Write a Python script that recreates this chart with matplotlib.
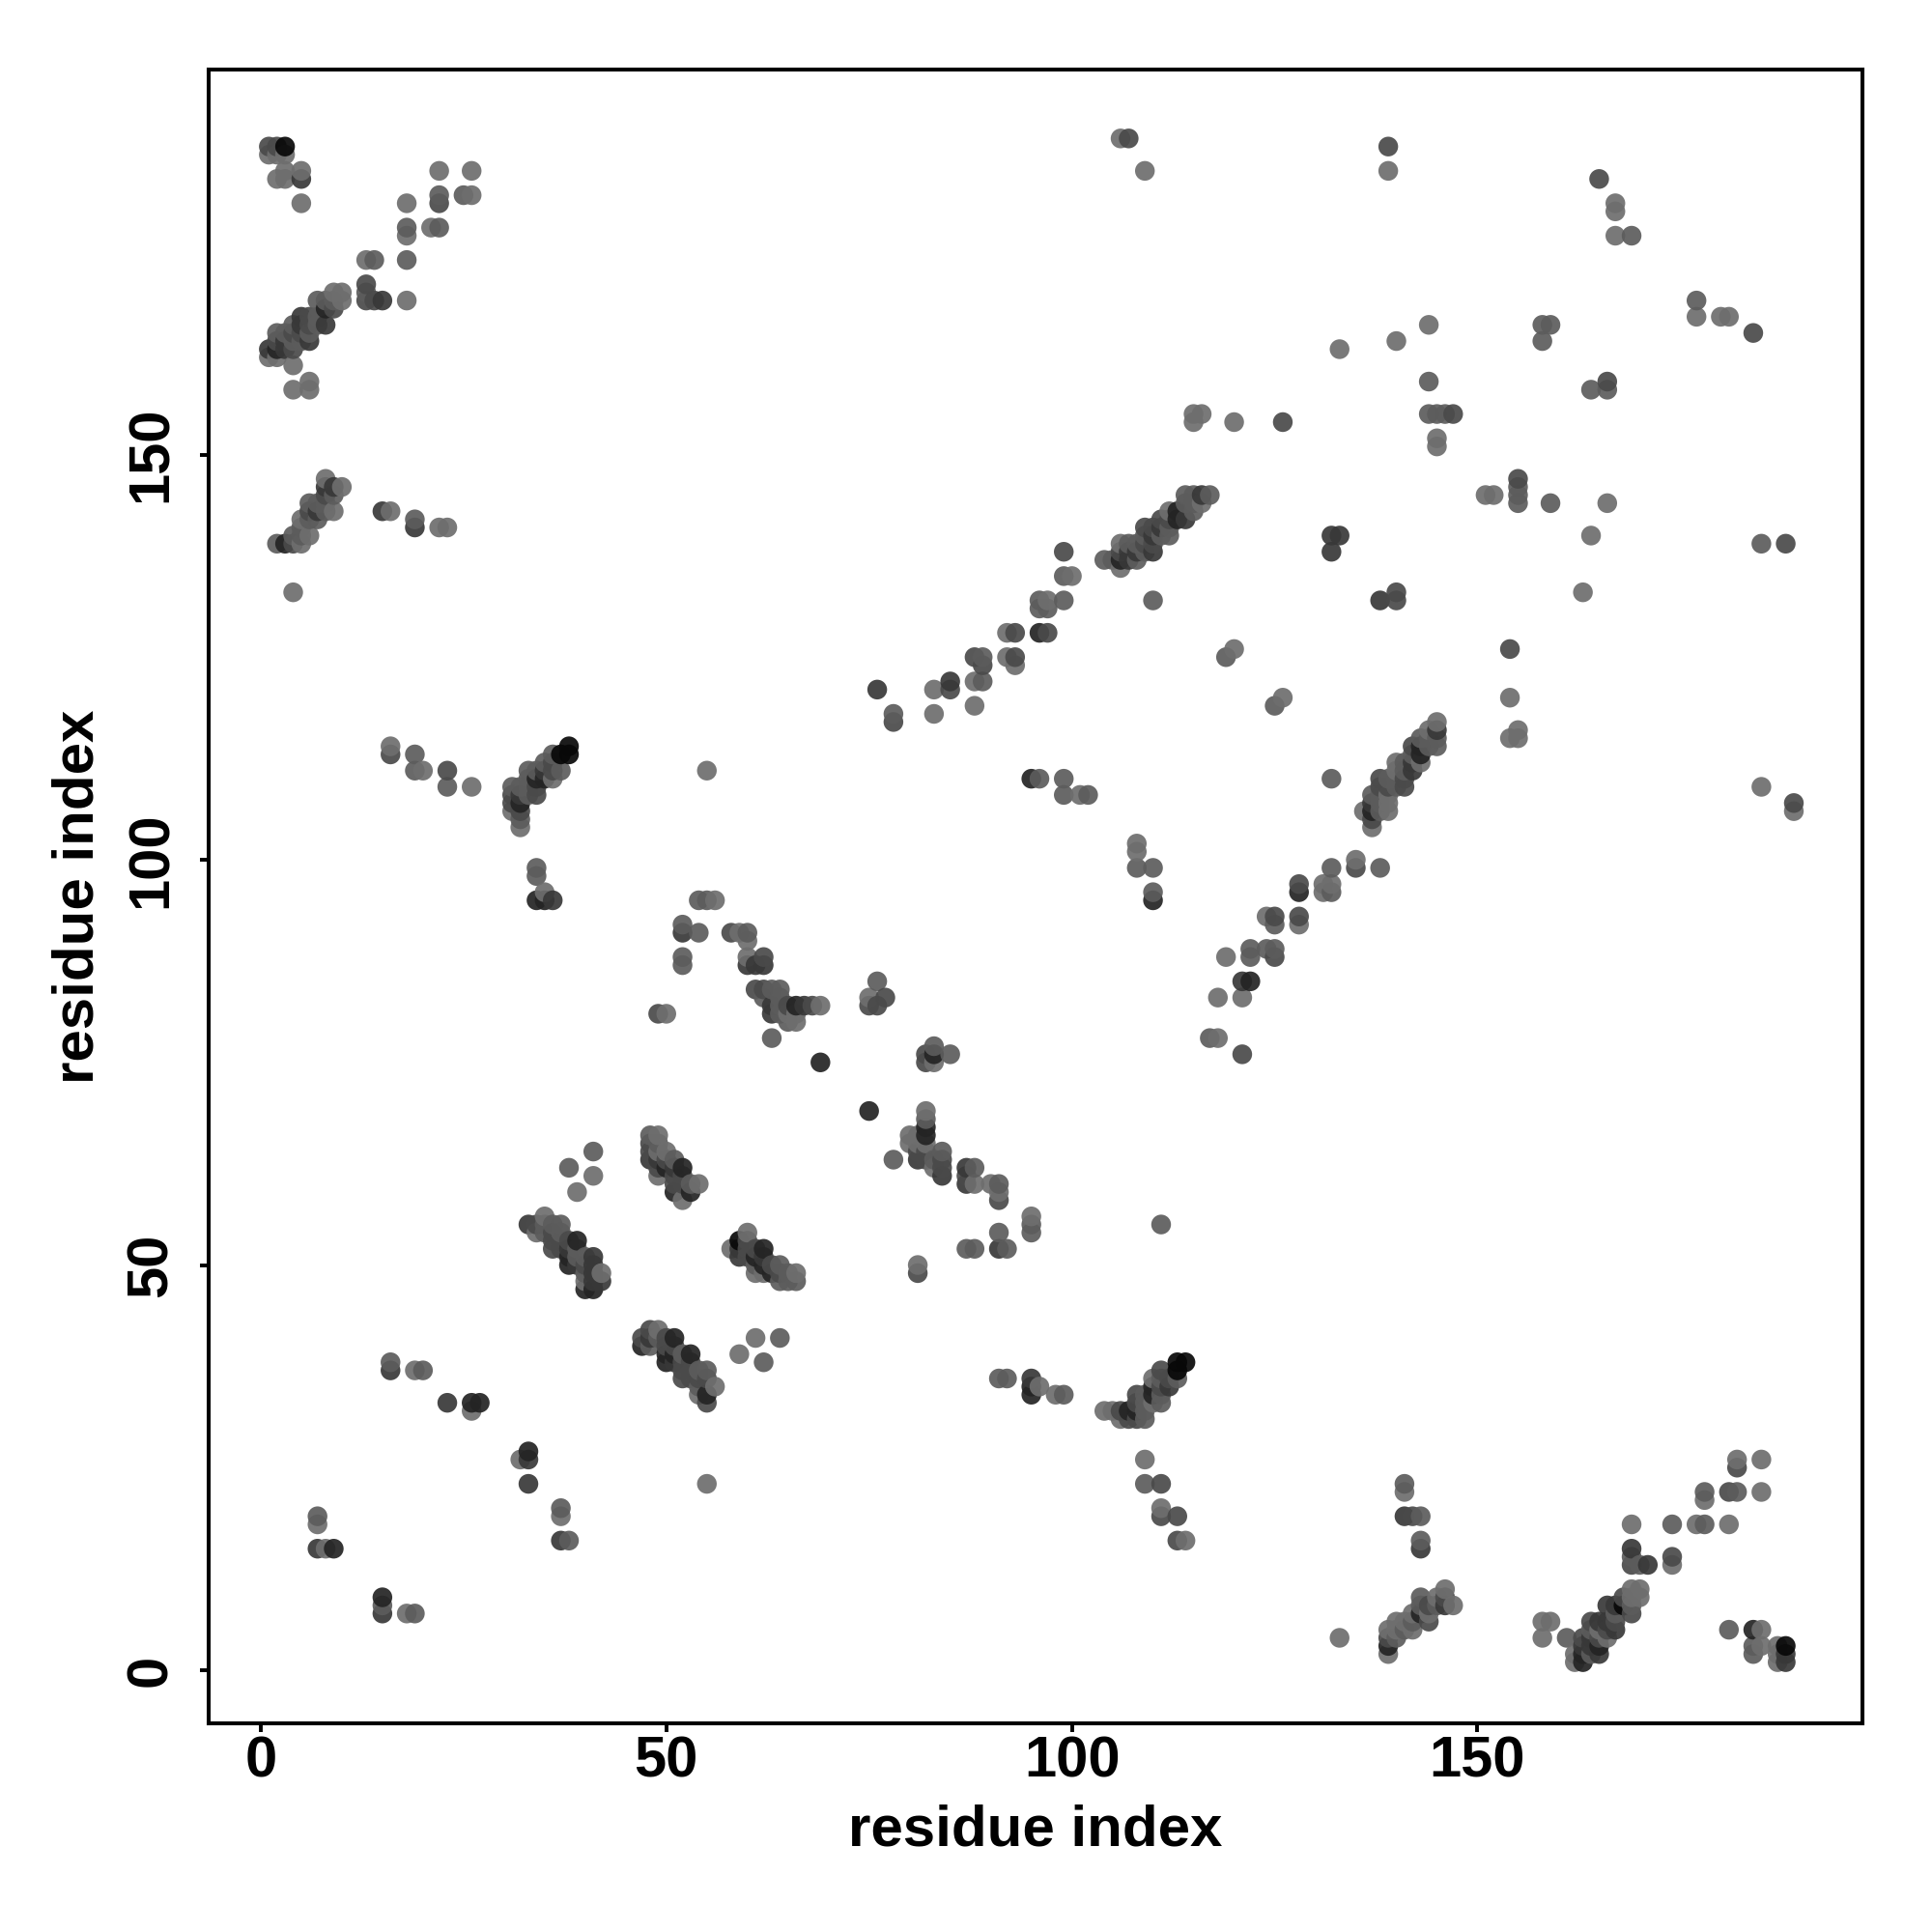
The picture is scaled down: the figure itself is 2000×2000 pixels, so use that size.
import numpy as np
import matplotlib
matplotlib.use("Agg")
import matplotlib.pyplot as plt

plt.rcParams['font.family'] = ['Liberation Sans', 'DejaVu Sans']

# contacts (residue i, residue j), grouped by how dark they were in the picture
light_contacts = [
    (1,187),(2,187),(3,187),(2,184),(3,185),(3,184),(5,185),(5,181),(18,181),(22,185),(26,185),(26,182),
    (18,177),(21,178),(13,174),(18,169),(10,170),(9,170),(10,169),(1,162),(2,162),(4,161),(4,158),(6,159),(6,158),
    (8,147),(10,146),(9,143),(5,142),(6,140),(5,139),(4,133),(16,143),(22,141),(23,141),
    (16,114),(20,111),(26,109),(36,110),(31,106),(32,104),(35,96),
    (55,111),(56,95),(59,91),(60,90),(60,88),(69,82),(65,81),(66,81),(66,80),(75,83),(50,81),
    (41,61),(39,59),(49,66),(49,64),(50,64),(54,60),(49,61),(52,58),
    (35,56),(34,54),(42,49),(40,48),(60,54),(58,52),(61,49),(62,49),(66,49),(49,42),(54,34),(56,35),
    (61,41),(59,39),(32,26),(55,23),(37,19),
    (124,93),(119,88),(118,83),(121,83),(118,78),(83,75),(82,69),(82,65),(80,66),(80,65),(81,66),(81,65),(83,62),
    (88,60),(90,60),(91,59),(95,56),(81,50),
    (115,155),(116,155),(115,154),(120,154),(116,144),(112,143),(106,139),(106,136),(100,135),(97,132),(92,128),
    (92,125),(93,124),(88,122),(83,121),(88,119),(83,118),(101,108),(120,126),(126,120),
    (154,120),(154,115),(155,116),(155,115),(145,117),(144,116),(143,112),(140,112),(140,111),(139,108),(139,107),
    (139,106),(136,106),(137,104),(135,100),(131,97),(131,96),(132,97),(128,92),
    (139,185),(167,181),(167,180),(167,177),(177,167),(180,167),(181,167),(144,166),(140,164),(133,163),(145,152),
    (145,151),(151,145),(152,145),(166,144),(164,140),(163,133),(185,109),(189,106),(109,185),(106,189),
    (141,22),(139,2),(139,5),(140,5),(140,6),(141,6),(142,5),(142,7),(144,7),(145,9),(146,10),(147,8),(158,6),(159,6),
    (158,4),(162,1),(162,2),(165,5),(166,4),(169,10),(170,10),(169,9),(170,9),(169,18),(174,13),(177,18),(181,18),
    (178,21),(182,26),(185,26),(185,22),(185,5),(185,3),(187,3),(187,2),(187,1),(133,4),
    (19,37),(26,32),(8,15),(7,18),(18,7),(96,35),(98,34),(104,32),(105,32),(106,31),(110,36),(110,33),(109,26),
    (111,20),(114,16),(108,102),(108,101),
]
mid_contacts = [
    (22,182),(25,182),(18,178),(22,178),(14,174),(18,174),(13,170),(7,169),(9,169),(8,169),(7,167),(7,166),(4,166),
    (3,165),(2,165),(6,165),(4,164),(5,164),
    (6,144),(7,144),(8,144),(9,145),(8,143),(6,142),(7,142),(4,140),(5,141),(5,140),(2,139),
    (19,142),(19,113),(19,111),(23,109),(37,111),(36,113),(35,112),(33,111),(34,111),(33,110),(31,109),(32,109),(33,109),
    (33,108),(32,105),(34,99),(34,98),
    (54,95),(55,95),(52,92),(54,91),(52,88),(52,87),(60,91),(63,84),(64,84),(62,83),(64,83),(64,82),(64,81),(65,80),
    (63,78),(76,85),(41,64),(38,62),
    (48,66),(49,65),(51,63),(53,60),(35,55),(36,55),(37,55),(35,54),(37,54),(39,52),(39,51),(40,51),(40,49),
    (61,50),(64,50),(65,49),(64,48),(65,48),(66,48),
    (49,41),(48,40),(52,39),(54,37),(55,37),(54,35),
    (64,41),(62,38),(37,20),(38,16),(78,63),(125,92),(122,89),(122,88),(124,89),(125,89),(117,78),(111,55),
    (83,77),(85,76),(82,68),(83,63),(84,64),(88,62),(91,60),(95,55),(95,54),(91,54),(87,52),(88,52),(92,52),
    (117,145),(115,145),(114,145),(114,144),(115,144),(115,143),(112,141),(109,140),(111,140),(112,140),
    (107,139),(108,139),(109,138),(104,137),(105,137),(108,137),(99,135),(96,132),(99,132),(96,131),(97,131),(110,132),
    (89,125),(89,122),(78,118),(96,110),(99,110),(99,108),(102,108),(125,119),(119,125),
    (144,115),(145,115),(145,114),(144,114),(143,115),(142,113),(141,112),(141,111),(140,110),(139,110),(140,109),
    (137,108),(138,108),(138,107),(138,106),(132,110),(132,99),(138,99),(132,96),
    (169,177),(177,169),(158,166),(159,166),(158,164),(144,159),(144,155),(145,155),(146,155),(164,158),(166,158),
    (155,146),(155,145),(155,144),(159,144),(185,139),
    (141,23),(143,19),(143,16),(140,4),(141,5),(142,6),(143,9),(143,8),(145,8),(161,4),(164,2),(164,5),(167,7),
    (169,8),(170,13),(169,14),(174,18),(178,22),(178,18),(182,22),(181,5),(184,3),(184,2),
    (16,38),(20,37),(7,19),(15,8),(19,7),(91,36),(92,36),(99,34),(109,31),(109,34),(109,33),(109,32),(111,36),(111,34),
    (111,33),(113,36),(109,23),(108,99),(110,99),(110,96),
]
dark_contacts = [
    (1,188),(2,188),(22,181),(13,171),(13,169),(14,169),(6,167),(9,168),(6,166),(4,165),(5,165),(2,164),(4,163),
    (8,145),(6,143),(4,139),(16,113),(23,111),(36,112),(36,111),(34,109),(34,108),(31,108),
    (31,107),(32,106),
    (58,91),(61,84),(62,84),(62,88),(65,82),(68,82),(77,83),(75,82),(76,82),(49,81),
    (48,65),(48,64),(50,63),(49,62),(51,61),(52,61),(51,60),(52,60),
    (34,55),(36,54),(36,53),(37,53),(38,53),(36,52),(37,52),(40,50),
    (60,53),(60,52),(61,52),(60,51),(63,50),(64,49),
    (47,41),(48,42),(50,41),(50,40),(51,40),(52,38),(53,38),(52,37),(53,37),(52,36),(53,36),(54,36),(55,36),(55,33),
    (125,93),(125,88),(121,76),(82,76),(82,75),(81,64),(82,64),(82,63),(84,63),(84,62),(87,61),(91,58),(81,49),
    (109,141),(110,141),(111,142),(112,142),(109,139),(110,139),(106,138),(126,154),(99,138),(93,128),(97,128),
    (88,125),(89,124),(93,125),(85,121),(78,117),
    (142,114),(141,110),(138,110),(141,109),(139,109),(138,109),(137,105),(135,99),(128,97),(128,93),
    (139,188),(165,184),(184,165),(147,155),(166,159),(155,147),(140,133),(140,132),(154,126),(188,139),(189,107),(107,189),
    (139,4),(142,19),(144,6),(144,8),(146,9),(163,4),(165,4),(164,6),(166,5),(167,6),(168,9),(169,7),(169,13),(174,14),
    (181,22),(182,25),
    (107,31),(108,31),(106,32),(108,34),(108,33),(111,37),(111,35),(112,36),(111,23),(111,19),(113,19),(113,16),
]
darker_contacts = [
    (5,184),(15,169),(5,167),(8,166),(5,166),(3,164),(6,164),(1,163),(3,163),
    (7,143),(8,146),(9,146),(15,143),(19,141),(35,111),(32,108),
    (36,95),(52,91),(60,87),(61,87),(62,87),(63,82),(67,82),(63,81),
    (48,63),(49,63),(51,62),(33,55),(38,52),(41,50),(41,49),(41,48),(42,48),(39,50),(41,51),(59,52),(59,51),(62,51),
    (48,41),(51,38),(33,26),(33,23),(37,16),(121,85),(81,63),(84,61),(87,62),(87,60),(91,52),
    (116,145),(114,142),(111,141),(110,140),(107,138),(108,138),(110,138),(107,137),(85,122),(76,121),
    (137,107),(142,112),(142,111),(145,116),(133,140),(132,140),(132,138),(138,132),
    (141,19),(143,15),(146,8),(163,3),(164,3),(164,4),(165,2),(166,6),(166,8),(167,5),(167,8),(169,15),(171,13),(165,6),
    (188,2),(188,1),(16,37),(23,33),(7,15),(15,7),(95,36),(112,35),
]
darkest_contacts = [
    (69,75),(75,69),(83,76),(82,67),(82,66),(122,85),(106,137),(113,143),(113,142),(96,128),(95,110),(128,96),
    (143,114),(143,113),(137,106),(139,3),(143,7),(163,1),(163,2),(165,3),(184,5),
    (8,168),(2,163),(3,139),(34,110),(35,110),(32,107),(34,95),(35,95),(66,82),(50,62),(52,62),(53,59),(51,59),
    (38,51),(38,50),(39,53),(47,40),(51,41),(50,39),(50,38),(51,39),(53,39),(55,34),(40,47),(41,47),(62,52),(61,51),(62,50),(63,49),
    (33,27),(26,33),(27,33),(9,15),(15,9),(95,35),(95,34),(107,32),(108,32),(110,35),(110,34),(110,95),
]
black_contacts = [
    (3,188),(38,114),(37,113),(38,113),(59,53),(113,38),(113,37),(114,38),(168,8),(188,3),
]

shade_groups = [light_contacts, mid_contacts, dark_contacts, darker_contacts, darkest_contacts, black_contacts]
shade_greys = [0.43, 0.36, 0.29, 0.22, 0.14, 0.03]
x_ticks = [0, 50, 100, 150]
y_ticks = [0, 50, 100, 150]

xs, ys, greys = [], [], []
for group, grey in zip(shade_groups, shade_greys):
    xs += [p[0] for p in group]
    ys += [p[1] for p in group]
    greys += [grey] * len(group)
xs = np.array(xs)
ys = np.array(ys)
greys = np.array(greys)

# later residues were drawn over earlier ones
order = np.lexsort((ys, xs))
colors = np.column_stack([greys[order], greys[order], greys[order], np.full(len(order), 0.92)])

fig = plt.figure(figsize=(10, 10), dpi=200)
ax = fig.add_axes([216 / 2000, 1 - 1784 / 2000, (1927.5 - 216) / 2000, (1784 - 72) / 2000])
ax.scatter(xs[order], ys[order], c=colors, s=54, linewidths=0)

ax.set_xlim(-6.42, 197.4)
ax.set_ylim(-6.55, 197.5)
ax.set_xticks(x_ticks)
ax.set_yticks(y_ticks)
ax.tick_params(length=3.4, width=1.4, labelsize=21.5)
ax.tick_params(axis='x', pad=1.2)
ax.tick_params(axis='y', pad=8)
for label in ax.get_xticklabels():
    label.set_fontweight('bold')
for label in ax.get_yticklabels():
    label.set_fontweight('bold')
    label.set_rotation(90)
    label.set_verticalalignment('center')
for spine in ax.spines.values():
    spine.set_linewidth(1.45)

ax.set_xlabel('residue index', fontsize=21.6, fontweight='bold', labelpad=5.5)
ax.set_ylabel('residue index', fontsize=21.6, fontweight='bold', labelpad=7.5)

fig.savefig('out.png', dpi=200)
